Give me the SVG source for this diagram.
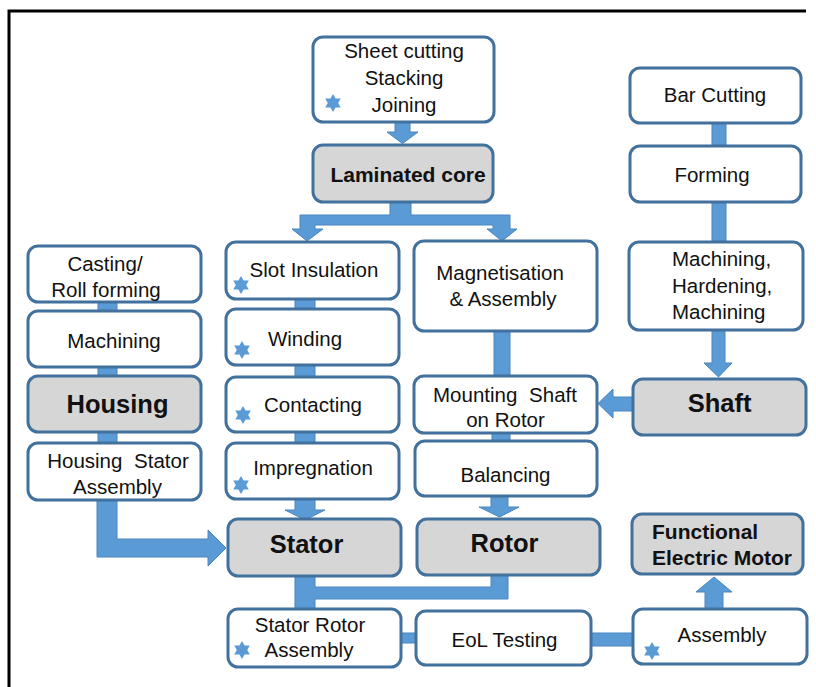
<svg xmlns="http://www.w3.org/2000/svg" xmlns:xlink="http://www.w3.org/1999/xlink" width="816" height="687" viewBox="0 0 816 687">
<style>
.box{fill:#ffffff;stroke:#41719c;stroke-width:3}
.key{fill:#d6d6d6;stroke:#41719c;stroke-width:3}
.con{fill:#5b9bd5;stroke:#4a85bd;stroke-width:1}
.t{font-family:"Liberation Sans",Arial,sans-serif;font-size:20.5px;fill:#111;text-anchor:middle}
.l{text-anchor:start}
.b{font-family:"Liberation Sans",Arial,sans-serif;font-size:25.5px;font-weight:bold;fill:#111;text-anchor:middle}
.bm{font-family:"Liberation Sans",Arial,sans-serif;font-size:21px;font-weight:bold;fill:#111}
.star{fill:#5b9bd5}
</style>
<defs>
<polygon id="star" points="0,-9 2.6,-4.5 7.79,-4.5 5.2,0 7.79,4.5 2.6,4.5 0,9 -2.6,4.5 -7.79,4.5 -5.2,0 -7.79,-4.5 -2.6,-4.5"/>
</defs>
<rect width="816" height="687" fill="#ffffff"/>
<g id="frame" stroke="#000" stroke-width="3" fill="none">
<polyline points="9,687 9,11 806,11"/>
</g>
<g id="connectors">
<polygon class="con" points="395,122 410,122 410,132 418,132 402.5,143.5 387,132 395,132"/>
<polygon class="con" points="390,201 411,201 411,215 510,215 510,229 517,229 502,241 487,229 493,229 493,225 315,225 315,229 323,229 307,241 292,229 300,229 300,215 390,215"/>
<rect class="con" x="712" y="123" width="14" height="23"/>
<rect class="con" x="712" y="202" width="14" height="40"/>
<polygon class="con" points="712,330 725,330 725,363 732,363 718.5,377 704,363 712,363"/>
<polygon class="con" points="633,397 613,397 613,389 598,403.5 613,418 613,411 633,411"/>
<rect class="con" x="98" y="302" width="19" height="9"/>
<rect class="con" x="98" y="367" width="19" height="9"/>
<rect class="con" x="98" y="432" width="19" height="11"/>
<polygon class="con" points="97,500 117,500 117,539 208,539 208,530 226,548 208,566 208,557 97,557"/>
<rect class="con" x="295" y="299" width="20" height="10"/>
<rect class="con" x="295" y="365" width="20" height="12"/>
<rect class="con" x="295" y="432" width="20" height="11"/>
<polygon class="con" points="295,499 315,499 315,510 325,510 305,520 285,510 295,510"/>
<rect class="con" x="494" y="331" width="16" height="45"/>
<rect class="con" x="492" y="433" width="18" height="8"/>
<polygon class="con" points="491,496 508,496 508,507 519,507 499.5,517 479,507 491,507"/>
<polygon class="con" points="295,576 315,576 315,587 491,587 491,575 508,575 508,599 315,599 315,609 295,609"/>
<rect class="con" x="401" y="633" width="15" height="10"/>
<rect class="con" x="591" y="633" width="42" height="13"/>
<polygon class="con" points="705,609 723,609 723,592 732,592 714,577 696,592 705,592"/>
</g>
<g id="sheet"><rect class="box" x="313" y="37" width="181" height="85" rx="10"/>
<text class="t" x="404" y="58">Sheet cutting</text><text class="t" x="404" y="85">Stacking</text><text class="t" x="404" y="112">Joining</text>
<use href="#star" class="star" x="333" y="103"/></g>
<g id="laminated"><rect class="key" x="313" y="145" width="180" height="57" rx="10"/>
<text class="bm" x="408" y="182" text-anchor="middle">Laminated core</text></g>
<g id="barcutting"><rect class="box" x="630" y="68" width="171" height="55" rx="10"/>
<text class="t" x="715" y="102">Bar Cutting</text></g>
<g id="forming"><rect class="box" x="630" y="146" width="171" height="56" rx="10"/>
<text class="t" x="712" y="182">Forming</text></g>
<g id="machhard"><rect class="box" x="629" y="242" width="174" height="88" rx="10"/>
<text class="t l" x="672" y="266">Machining,</text><text class="t l" x="672" y="293">Hardening,</text><text class="t l" x="672" y="319">Machining</text></g>
<g id="shaft"><rect class="key" x="633" y="379" width="173" height="56" rx="10"/>
<text class="b" x="719.5" y="412">Shaft</text></g>
<g id="casting"><rect class="box" x="28" y="246" width="173" height="56" rx="10"/>
<text class="t" x="105" y="271">Casting/</text><text class="t" x="106" y="297">Roll forming</text></g>
<g id="machining"><rect class="box" x="28" y="311" width="173" height="56" rx="10"/>
<text class="t" x="114" y="348">Machining</text></g>
<g id="housing"><rect class="key" x="28" y="376" width="173" height="56" rx="10"/>
<text class="b" x="117.5" y="413">Housing</text></g>
<g id="housingstator"><rect class="box" x="28" y="443" width="173" height="57" rx="10"/>
<text class="t" x="118" y="468" word-spacing="6">Housing Stator</text><text class="t" x="117.5" y="494">Assembly</text></g>
<g id="slot"><rect class="box" x="226" y="242" width="173" height="57" rx="10"/>
<text class="t" x="314" y="277">Slot Insulation</text>
<use href="#star" class="star" x="241" y="285"/></g>
<g id="winding"><rect class="box" x="226" y="309" width="173" height="56" rx="10"/>
<text class="t" x="305" y="346">Winding</text>
<use href="#star" class="star" x="242" y="350"/></g>
<g id="contacting"><rect class="box" x="226" y="377" width="173" height="55" rx="10"/>
<text class="t" x="313" y="412">Contacting</text>
<use href="#star" class="star" x="243" y="415"/></g>
<g id="impregnation"><rect class="box" x="226" y="443" width="173" height="56" rx="10"/>
<text class="t" x="313" y="475">Impregnation</text>
<use href="#star" class="star" x="241" y="485"/></g>
<g id="stator"><rect class="key" x="228" y="519" width="173" height="57" rx="10"/>
<text class="b" x="306.5" y="553">Stator</text></g>
<g id="magnet"><rect class="box" x="414" y="241" width="183" height="90" rx="10"/>
<text class="t" x="500" y="280">Magnetisation</text><text class="t" x="503" y="306">&amp; Assembly</text></g>
<g id="mounting"><rect class="box" x="414" y="376" width="183" height="57" rx="10"/>
<text class="t" x="505" y="402" word-spacing="6">Mounting Shaft</text><text class="t" x="505.5" y="427">on Rotor</text></g>
<g id="balancing"><rect class="box" x="415" y="441" width="182" height="55" rx="10"/>
<text class="t" x="505.5" y="482">Balancing</text></g>
<g id="rotor"><rect class="key" x="417" y="519" width="183" height="56" rx="10"/>
<text class="b" x="504.5" y="552">Rotor</text></g>
<g id="fem"><rect class="key" x="632" y="514" width="171" height="60" rx="10"/>
<text class="bm" x="652" y="539">Functional</text><text class="bm" x="652" y="565">Electric Motor</text></g>
<g id="sra"><rect class="box" x="228" y="609" width="173" height="58" rx="10"/>
<text class="t" x="310" y="632">Stator Rotor</text><text class="t" x="309" y="657">Assembly</text>
<use href="#star" class="star" x="242" y="650"/></g>
<g id="eol"><rect class="box" x="416" y="611" width="175" height="54" rx="10"/>
<text class="t" x="504.5" y="647">EoL Testing</text></g>
<g id="assembly"><rect class="box" x="633" y="609" width="174" height="55" rx="10"/>
<text class="t" x="722" y="642">Assembly</text>
<use href="#star" class="star" x="652" y="651"/></g>
</svg>
